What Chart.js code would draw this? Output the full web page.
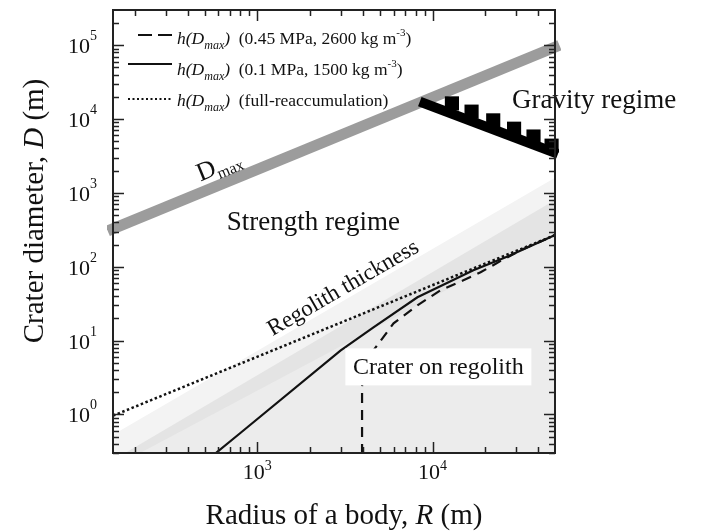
<!DOCTYPE html>
<html>
<head>
<meta charset="utf-8">
<script src="https://cdn.jsdelivr.net/npm/chart.js@4.4.1/dist/chart.umd.min.js"></script>
<style>
  body { margin: 0; background: #fff; }
  canvas { display: block; }
</style>
</head>
<body>
<canvas id="myChart" width="713" height="531"></canvas>
<script>
// axis ranges (R in m, D in m)
var xMin = 150, xMax = 50000;
var yMin = 0.3, yMax = 3e5;
var xTickExp = [3, 4];
var yTickExp = [0, 1, 2, 3, 4, 5];

// D_max band
var dmaxR = [140, 53000];
var dmaxD = [305, 100000];

// gravity regime band + blocks on top
var gravR = [8460, 52000];
var gravD = [17200, 3380];
var blockR = [12900, 16700, 22200, 29200, 37700, 47800];
var blockD = [16300, 12600, 9600, 7400, 5800, 4360];

// h(Dmax) curves
var dashR = [3960, 3960, 4000, 4200, 4830, 5990, 8200, 11100, 15000, 18800, 24500, 32000, 50000];
var dashD = [0.29, 2.4, 3.5, 5.5, 8.6, 17.1, 30, 48, 65.6, 84, 120, 168, 268];
var solidR = [560, 800, 2980, 4600, 8200, 17100, 26800, 50000];
var solidD = [0.28, 0.56, 7.3, 15.1, 38.6, 89.7, 138, 268];
var dotR = [150, 50000];
var dotD = [0.96, 268];

// shaded areas (upper edges)
var lightR = [150, 50000];
var lightD = [0.53, 1600];
var stripeTopR = [176, 50000];
var stripeTopD = [0.3, 800];
var stripeBotR = [214, 50000];
var stripeBotD = [0.3, 294];

var SERIF = '"Liberation Serif","Times New Roman",serif';

function pts(xs, ys) {
  return xs.map(function (x, i) { return { x: x, y: ys[i] }; });
}
function f(size, italic) {
  return (italic ? 'italic ' : '') + size + 'px ' + SERIF;
}
function runsWidth(ctx, parts) {
  var w = 0;
  parts.forEach(function (p) { ctx.font = p.font; w += ctx.measureText(p.t).width; });
  return w;
}
function drawRuns(ctx, parts, x, y) {
  parts.forEach(function (p) {
    ctx.font = p.font;
    ctx.fillText(p.t, x, y + (p.dy || 0));
    x += ctx.measureText(p.t).width;
  });
  return x;
}

var extras = {
  id: 'extras',
  afterDatasetsDraw: function (chart) {
    var ctx = chart.ctx;
    var xs = chart.scales.x, ys = chart.scales.y;
    var a = chart.chartArea;
    var X = function (v) { return xs.getPixelForValue(v); };
    var Y = function (v) { return ys.getPixelForValue(v); };

    ctx.save();
    ctx.fillStyle = '#111';
    ctx.textAlign = 'left';
    ctx.textBaseline = 'alphabetic';

    // Crater on regolith box
    var bx = X(10800), by = Y(4.4);
    ctx.fillStyle = '#fff';
    ctx.fillRect(bx - 93, by - 18.5, 186, 37);
    ctx.fillStyle = '#111';
    ctx.font = f(24);
    ctx.textAlign = 'center';
    ctx.textBaseline = 'middle';
    ctx.fillText('Crater on regolith', bx, by + 1);

    // regime labels
    ctx.textBaseline = 'alphabetic';
    ctx.font = f(27);
    ctx.fillText('Strength regime', X(2090), Y(313));
    ctx.fillText('Gravity regime', X(83600), Y(14200));

    // Regolith thickness
    ctx.save();
    ctx.translate(X(3100), Y(51));
    ctx.rotate(-30 * Math.PI / 180);
    ctx.font = f(23);
    ctx.textBaseline = 'middle';
    ctx.fillText('Regolith thickness', 0, 0);
    ctx.restore();

    // D_max label along the band
    var ang = Math.atan2(Y(dmaxD[1]) - Y(dmaxD[0]), X(dmaxR[1]) - X(dmaxR[0]));
    ctx.save();
    ctx.translate(X(505), Y(2050));
    ctx.rotate(ang);
    ctx.textAlign = 'left';
    ctx.textBaseline = 'alphabetic';
    drawRuns(ctx, [{ t: 'D', font: f(26) }, { t: 'max', font: f(16), dy: 5 }], -9, 9);
    ctx.restore();

    // legend
    var lx = a.left;
    var rows = [
      { y: 35, tb: 44, dash: [14, 6], x0: lx + 25, w: 2, txt: '  (0.45 MPa, 2600 kg m', sup: true },
      { y: 64, tb: 75, dash: [], x0: lx + 15, w: 2, txt: '  (0.1 MPa, 1500 kg m', sup: true },
      { y: 99, tb: 106, dash: [2, 2.5], x0: lx + 15, w: 2, txt: '  (full-reaccumulation)', sup: false }
    ];
    rows.forEach(function (r) {
      ctx.save();
      ctx.strokeStyle = '#111';
      ctx.lineWidth = r.w;
      ctx.setLineDash(r.dash);
      ctx.beginPath();
      ctx.moveTo(r.x0, r.y);
      ctx.lineTo(lx + 59, r.y);
      ctx.stroke();
      ctx.restore();
      var parts = [
        { t: 'h(D', font: f(17.5, true) },
        { t: 'max', font: f(12, true), dy: 5 },
        { t: ')', font: f(17.5, true) },
        { t: r.txt, font: f(17.5) }
      ];
      if (r.sup) {
        parts.push({ t: '-3', font: f(11), dy: -8 });
        parts.push({ t: ')', font: f(17.5) });
      }
      ctx.textAlign = 'left';
      drawRuns(ctx, parts, lx + 64, r.tb);
    });

    // frame
    ctx.strokeStyle = '#222';
    ctx.lineWidth = 2;
    ctx.strokeRect(a.left, a.top, a.right - a.left, a.bottom - a.top);

    // ticks
    ctx.lineWidth = 1.5;
    ctx.beginPath();
    for (var e = 2; e <= 4; e++) {
      for (var m = 1; m <= 9; m++) {
        var v = m * Math.pow(10, e);
        if (v <= xMin || v >= xMax) continue;
        var px = Math.round(X(v)) + 0.5;
        var len = m === 1 ? 11 : 6;
        ctx.moveTo(px, a.bottom); ctx.lineTo(px, a.bottom - len);
        ctx.moveTo(px, a.top); ctx.lineTo(px, a.top + len);
      }
    }
    for (e = -1; e <= 5; e++) {
      for (m = 1; m <= 9; m++) {
        v = m * Math.pow(10, e);
        if (v <= yMin || v >= yMax) continue;
        var py = Math.round(Y(v)) + 0.5;
        len = m === 1 ? 11 : 6;
        ctx.moveTo(a.left, py); ctx.lineTo(a.left + len, py);
        ctx.moveTo(a.right, py); ctx.lineTo(a.right - len, py);
      }
    }
    ctx.stroke();

    // tick labels
    ctx.fillStyle = '#111';
    ctx.textAlign = 'left';
    ctx.textBaseline = 'alphabetic';
    yTickExp.forEach(function (ex) {
      var py = Y(Math.pow(10, ex));
      var parts = [{ t: '10', font: f(22) }, { t: String(ex), font: f(14), dy: -13 }];
      var w = runsWidth(ctx, parts);
      drawRuns(ctx, parts, a.left - 16 - w, py + 8);
    });
    xTickExp.forEach(function (ex) {
      var px = X(Math.pow(10, ex));
      var parts = [{ t: '10', font: f(22) }, { t: String(ex), font: f(14), dy: -9 }];
      var w = runsWidth(ctx, parts);
      drawRuns(ctx, parts, px - w / 2, a.bottom + 26);
    });

    // axis titles
    var xt = [{ t: 'Radius of a body, ', font: f(29) }, { t: 'R', font: f(29, true) }, { t: ' (m)', font: f(29) }];
    var wx = runsWidth(ctx, xt);
    drawRuns(ctx, xt, (a.left + a.right) / 2 + 10 - wx / 2, 524);

    var yt = [{ t: 'Crater diameter, ', font: f(29) }, { t: 'D', font: f(29, true) }, { t: ' (m)', font: f(29) }];
    var wy = runsWidth(ctx, yt);
    ctx.save();
    ctx.translate(43, 211);
    ctx.rotate(-Math.PI / 2);
    drawRuns(ctx, yt, -wy / 2, 0);
    ctx.restore();

    ctx.restore();
  }
};

new Chart('myChart', {
  type: 'line',
  data: {
    datasets: [
      { data: pts(dashR, dashD), borderColor: '#111', borderWidth: 2.2, borderDash: [10, 7], pointRadius: 0, fill: false },
      { data: pts(solidR, solidD), borderColor: '#111', borderWidth: 2.2, pointRadius: 0, fill: false },
      { data: pts(dotR, dotD), borderColor: '#111', borderWidth: 2.5, borderDash: [2.5, 2.5], pointRadius: 0, fill: false },
      { data: pts(blockR, blockD), showLine: false, pointStyle: 'rect', pointRadius: 10, backgroundColor: '#000', borderWidth: 0, clip: { left: 0, top: 0, right: 4, bottom: 0 } },
      { data: pts(gravR, gravD), borderColor: '#000', borderWidth: 10, pointRadius: 0, fill: false, clip: { left: 0, top: 0, right: 4, bottom: 0 } },
      { data: pts(dmaxR, dmaxD), borderColor: '#9c9c9c', borderWidth: 11, pointRadius: 0, fill: false, clip: { left: 6, top: 0, right: 6, bottom: 0 } },
      { data: pts(stripeBotR, stripeBotD), borderWidth: 0, pointRadius: 0, fill: 'start', backgroundColor: '#ececec' },
      { data: pts(stripeTopR, stripeTopD), borderWidth: 0, pointRadius: 0, fill: 'start', backgroundColor: '#e4e4e4' },
      { data: pts(lightR, lightD), borderWidth: 0, pointRadius: 0, fill: 'start', backgroundColor: '#f3f3f3' }
    ]
  },
  options: {
    responsive: false,
    animation: false,
    layout: { padding: { left: 113, top: 10, right: 158, bottom: 78 } },
    scales: {
      x: { type: 'logarithmic', min: xMin, max: xMax, display: false },
      y: { type: 'logarithmic', min: yMin, max: yMax, display: false }
    },
    plugins: {
      legend: { display: false },
      tooltip: { enabled: false }
    }
  },
  plugins: [extras]
});
</script>
</body>
</html>
